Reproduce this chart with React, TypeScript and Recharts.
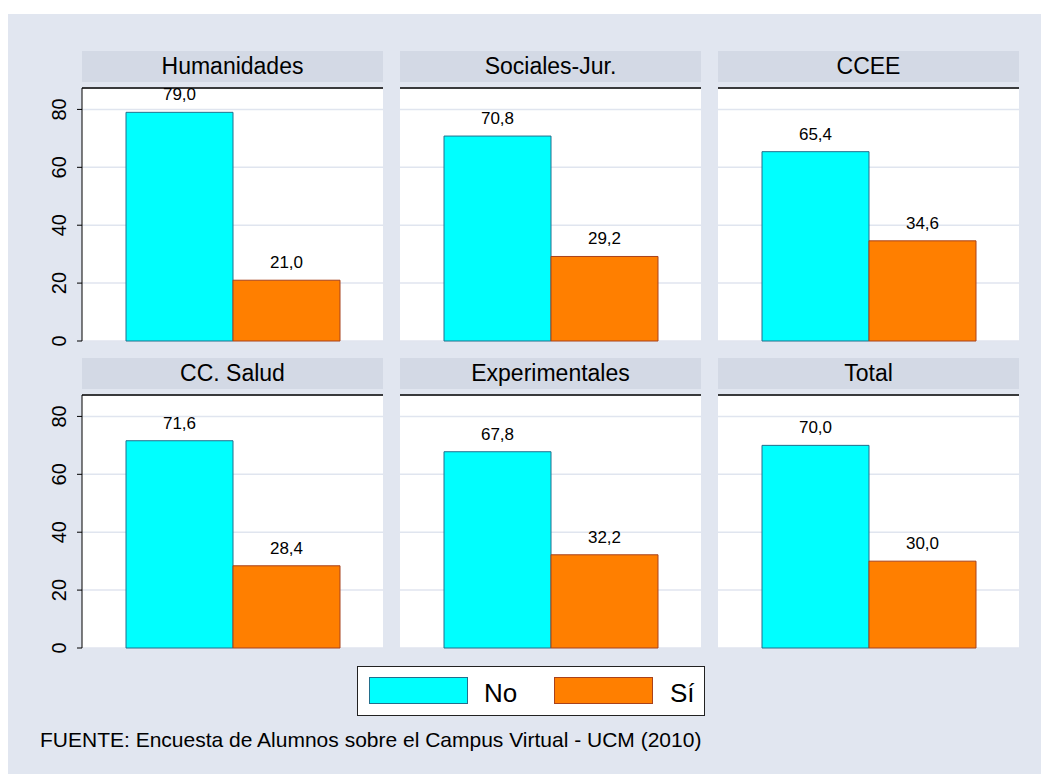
import React from "react";
import {
  BarChart,
  Bar,
  XAxis,
  YAxis,
  CartesianGrid,
  LabelList,
  ReferenceLine,
} from "recharts";

// Facultades / areas (un panel por area)
const areas = ["Humanidades", "Sociales-Jur.", "CCEE", "CC. Salud", "Experimentales", "Total"];
const noValues = [79.0, 70.8, 65.4, 71.6, 67.8, 70.0];
const siValues = [21.0, 29.2, 34.6, 28.4, 32.2, 30.0];
const yTicks = [0, 20, 40, 60, 80];
const seriesNames = ["No", "Sí"];

const Y_MAX = 87.4;
const FONT = "'Liberation Sans', Arial, Helvetica, sans-serif";
const BG = "#e1e6f0";
const STRIP = "#d3d9e5";
const CYAN = "#00ffff";
const CYAN_EDGE = "#236f8c";
const ORANGE = "#ff7f00";
const ORANGE_EDGE = "#a8421c";

const PANEL_W = 301;
const PLOT_H = 253;
const M_TOP = 20;
const M_BOT = 14;
const colX = [82, 400, 718];
const rowStripTop = [51, 358];
const rowPlotTop = [88, 395];
const AXIS_W = 50;

const fmt = (v: any) => Number(v).toFixed(1).replace(".", ",");

function RotTick(props: any) {
  const { x, y, payload } = props;
  const tx = x - 9;
  return (
    <text
      x={tx}
      y={y}
      transform={`rotate(-90, ${tx}, ${y})`}
      textAnchor="middle"
      fontSize={20}
      fontFamily={FONT}
      fill="#000"
    >
      {payload.value}
    </text>
  );
}

function Panel({ idx }: { idx: number }) {
  const col = idx % 3;
  const row = Math.floor(idx / 3);
  const withAxis = col === 0;
  const data = [{ area: areas[idx], no: noValues[idx], si: siValues[idx] }];
  const left = withAxis ? colX[col] - AXIS_W : colX[col];
  const width = withAxis ? PANEL_W + AXIS_W : PANEL_W;

  return (
    <>
      <div
        style={{
          position: "absolute",
          left: colX[col],
          top: rowStripTop[row],
          width: PANEL_W,
          height: 31,
          background: STRIP,
          textAlign: "center",
          fontSize: 23,
          lineHeight: "31px",
          fontFamily: FONT,
          color: "#000",
        }}
      >
        {areas[idx]}
      </div>
      <div style={{ position: "absolute", left, top: rowPlotTop[row] - M_TOP }}>
        <BarChart
          width={width}
          height={PLOT_H + M_TOP + M_BOT}
          data={data}
          margin={{ top: M_TOP, right: 0, bottom: M_BOT, left: 0 }}
          barGap={0}
        >
          <CartesianGrid horizontal vertical={false} fill="#ffffff" stroke="#e0e5ef" strokeWidth={1.5} />
          <XAxis dataKey="area" hide />
          <YAxis
            hide={!withAxis}
            width={AXIS_W}
            domain={[0, Y_MAX]}
            ticks={yTicks}
            interval={0}
            tickSize={5}
            tick={<RotTick />}
            axisLine={{ stroke: "#000" }}
            tickLine={{ stroke: "#000" }}
          />
          <ReferenceLine y={Y_MAX} stroke="#000" strokeWidth={1.5} />
          <Bar dataKey="no" name={seriesNames[0]} fill={CYAN} stroke={CYAN_EDGE} strokeWidth={1} barSize={107} isAnimationActive={false}>
            <LabelList dataKey="no" position="top" offset={12} formatter={fmt} fontSize={17} fontFamily={FONT} fill="#000" />
          </Bar>
          <Bar dataKey="si" name={seriesNames[1]} fill={ORANGE} stroke={ORANGE_EDGE} strokeWidth={1} barSize={107} isAnimationActive={false}>
            <LabelList dataKey="si" position="top" offset={12} formatter={fmt} fontSize={17} fontFamily={FONT} fill="#000" />
          </Bar>
        </BarChart>
      </div>
    </>
  );
}

export default function App() {
  return (
    <div style={{ position: "relative", width: 1041, height: 774, background: "#fff", overflow: "hidden", fontFamily: FONT }}>
      <style>{"body{margin:0;overflow:hidden}"}</style>
      <div style={{ position: "absolute", left: 8, top: 14, width: 1033, height: 760, background: BG }} />
      {areas.map((_, i) => (
        <Panel key={i} idx={i} />
      ))}
      {/* leyenda */}
      <div
        style={{
          position: "absolute",
          left: 357,
          top: 666,
          width: 346,
          height: 48,
          background: "#fff",
          border: "1px solid #222",
        }}
      >
        <div style={{ position: "absolute", left: 11, top: 10, width: 97, height: 25, background: CYAN, border: `1px solid ${CYAN_EDGE}` }} />
        <span style={{ position: "absolute", left: 126, top: 13, fontSize: 26, lineHeight: "26px", color: "#000" }}>{seriesNames[0]}</span>
        <div style={{ position: "absolute", left: 196, top: 10, width: 97, height: 25, background: ORANGE, border: `1px solid ${ORANGE_EDGE}` }} />
        <span style={{ position: "absolute", left: 312, top: 13, fontSize: 26, lineHeight: "26px", color: "#000" }}>{seriesNames[1]}</span>
      </div>
      <div style={{ position: "absolute", left: 40, top: 729, fontSize: 21, lineHeight: "21px", color: "#000", whiteSpace: "nowrap" }}>
        FUENTE: Encuesta de Alumnos sobre el Campus Virtual - UCM (2010)
      </div>
    </div>
  );
}
